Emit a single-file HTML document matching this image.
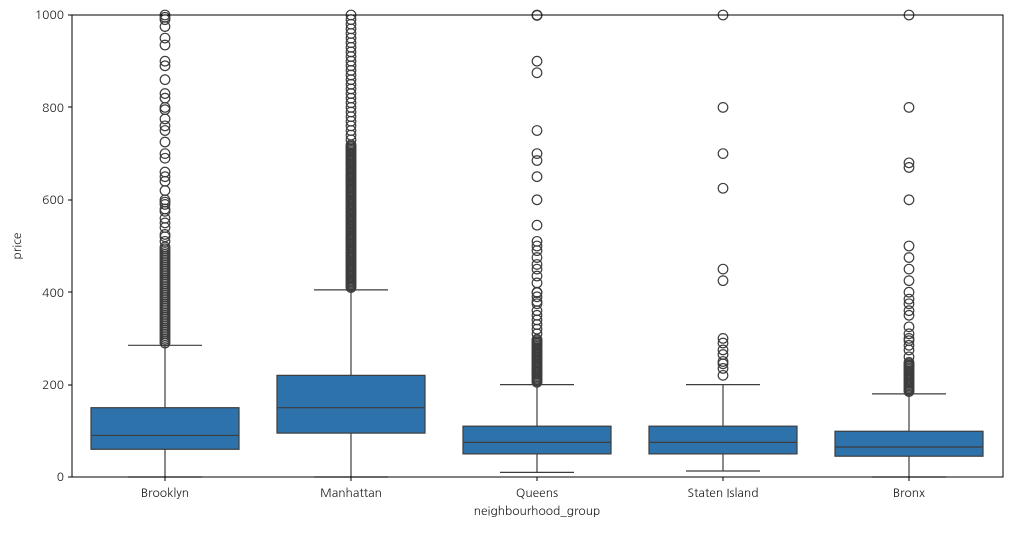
<!DOCTYPE html>
<html><head><meta charset="utf-8"><style>
body{margin:0;background:#fff;font-family:"NanumGothic","Liberation Sans",sans-serif}
</style></head><body>
<svg id="s" width="1011" height="528" xmlns="http://www.w3.org/2000/svg" font-family="NanumGothic, Liberation Sans, sans-serif">
<rect width="1011" height="528" fill="#fff"/>
<g id="g"></g>
<rect x="72" y="15" width="931" height="462" fill="none" stroke="#000" stroke-width="1"/>
<g font-size="12" fill="#222">
<text x="64" y="481" text-anchor="end">0</text>
<text x="64" y="389" text-anchor="end">200</text>
<text x="64" y="297" text-anchor="end">400</text>
<text x="64" y="204" text-anchor="end">600</text>
<text x="64" y="112" text-anchor="end">800</text>
<text x="64" y="19" text-anchor="end">1000</text>
<text x="165" y="497" text-anchor="middle">Brooklyn</text>
<text x="351" y="497" text-anchor="middle">Manhattan</text>
<text x="537" y="497" text-anchor="middle">Queens</text>
<text x="723" y="497" text-anchor="middle">Staten Island</text>
<text x="909" y="497" text-anchor="middle">Bronx</text>
<text x="537" y="515" text-anchor="middle">neighbourhood_group</text>
<text transform="translate(21,246) rotate(-90)" text-anchor="middle">price</text>
</g>
<g stroke="#000"><line x1="68" x2="72" y1="477" y2="477"/><line x1="68" x2="72" y1="385" y2="385"/><line x1="68" x2="72" y1="292" y2="292"/><line x1="68" x2="72" y1="200" y2="200"/><line x1="68" x2="72" y1="107" y2="107"/><line x1="68" x2="72" y1="15" y2="15"/>
<line x1="165" x2="165" y1="477" y2="481"/><line x1="351" x2="351" y1="477" y2="481"/><line x1="537" x2="537" y1="477" y2="481"/><line x1="723" x2="723" y1="477" y2="481"/><line x1="909" x2="909" y1="477" y2="481"/></g>
</svg>
<script>
const Y=p=>477-0.462*p;
function range(a,b,s){const r=[];for(let v=a;v<=b;v+=s)r.push(v);return r;}
const data=[
[165,0,60,90,150,285,range(290,500,4).concat([510,520,525,540,550,560,575,580,590,595,600,620,640,650,660,690,700,725,750,760,775,795,800,820,830,860,890,900,935,950,975,990,995,1000])],
[351,0,95,150,220,405,range(410,720,3).concat(range(730,1000,10))],
[537,10,50,75,110,200,range(205,300,3).concat([310,320,330,340,350,360,375,380,390,399,400,420,435,450,460,475,490,500,510,545,600,650,685,700,750,875,900,999,1000])],
[723,13,50,75,110,200,[220,235,245,250,265,275,290,300,425,450,625,700,800,1000]],
[909,0,45,65,99,180,range(185,250,3).concat([260,275,285,295,300,310,325,350,360,375,385,400,425,450,475,500,600,670,680,800,1000])]];
let h='';
for(const [x,lo,q1,m,q3,hi,f] of data){
h+=`<line x1="${x}" x2="${x}" y1="${Y(lo)}" y2="${Y(q1)}" stroke="#3d3d3d" stroke-width="1.2"/>`;
h+=`<line x1="${x}" x2="${x}" y1="${Y(q3)}" y2="${Y(hi)}" stroke="#3d3d3d" stroke-width="1.2"/>`;
h+=`<line x1="${x-37}" x2="${x+37}" y1="${Y(lo)}" y2="${Y(lo)}" stroke="#3d3d3d" stroke-width="1.2"/>`;
h+=`<line x1="${x-37}" x2="${x+37}" y1="${Y(hi)}" y2="${Y(hi)}" stroke="#3d3d3d" stroke-width="1.2"/>`;
h+=`<rect x="${x-74}" y="${Y(q3)}" width="148" height="${Y(q1)-Y(q3)}" fill="#2e72ab" stroke="#3d3d3d" stroke-width="1.2"/>`;
h+=`<line x1="${x-74}" x2="${x+74}" y1="${Y(m)}" y2="${Y(m)}" stroke="#3d3d3d" stroke-width="1.2"/>`;
for(const p of f)h+=`<circle cx="${x}" cy="${Y(p)}" r="4.8" fill="none" stroke="#3d3d3d" stroke-width="1.2"/>`;
}
document.getElementById('g').innerHTML=h;
</script>
</body></html>
